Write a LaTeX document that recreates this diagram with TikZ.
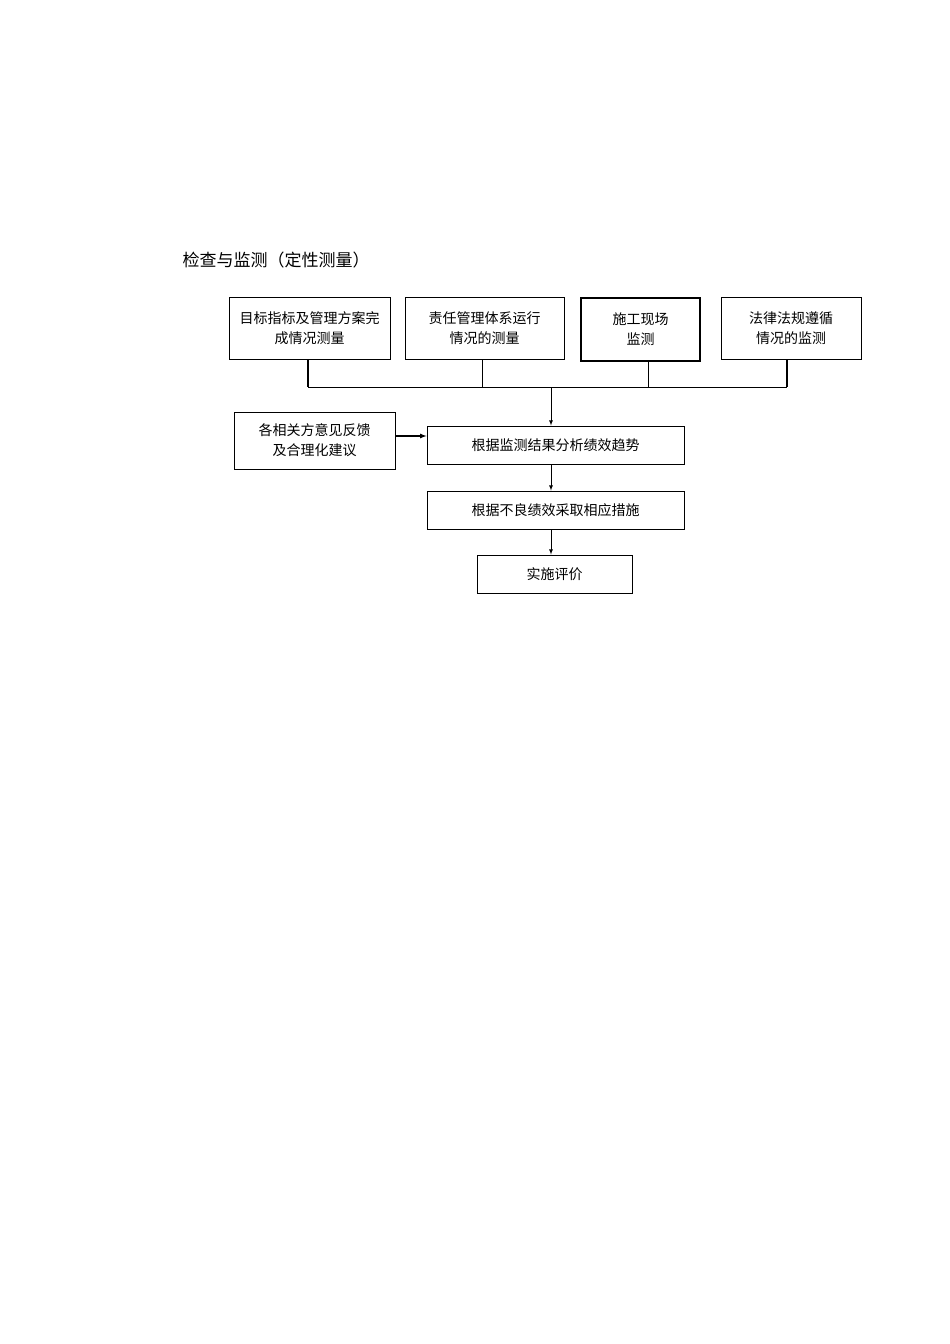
\documentclass[tikz,border=0pt]{standalone}
\usepackage{fontspec}
\newfontfamily\cjk{Noto Sans CJK SC}
\begin{document}
\begin{tikzpicture}[x=1pt,y=-1pt,
  bx/.style={draw,line width=0.9pt,inner sep=0pt,align=center,font=\cjk\fontsize{14}{20}\selectfont},
  ln/.style={line width=0.8pt},
  ar/.style={line width=0.8pt,-latex}]
\useasboundingbox[fill=white] (0,0) rectangle (950,1344);
\node[anchor=west,font=\cjk\fontsize{17}{20}\selectfont] (t) at (179,260) {检查与监测（定性测量）};
\node[bx,minimum width=161,minimum height=62] (b1) at (309.5,328) {目标指标及管理方案完\\成情况测量};
\node[bx,minimum width=159,minimum height=62] (b2) at (484.5,328) {责任管理体系运行\\情况的测量};
\node[bx,line width=1.4pt,minimum width=119,minimum height=63] (b3) at (640.5,329.5) {施工现场\\监测};
\node[bx,minimum width=140,minimum height=62] (b4) at (791,328) {法律法规遵循\\情况的监测};
\node[bx,minimum width=161,minimum height=57] (bl) at (314.5,440.5) {各相关方意见反馈\\及合理化建议};
\node[bx,minimum width=257,minimum height=38] (b5) at (555.5,445) {根据监测结果分析绩效趋势};
\node[bx,minimum width=257,minimum height=38] (b6) at (555.5,510) {根据不良绩效采取相应措施};
\node[bx,minimum width=155,minimum height=38] (b7) at (554.5,574) {实施评价};
\coordinate (j1) at (308,387);
\coordinate (j2) at (482,387);
\coordinate (j3) at (648,387);
\coordinate (j4) at (787,387);
\coordinate (jm) at (551,387);
\draw[ln] (j1) -- (j4);
\draw[ln,line width=1.4pt] (b1.south -| j1) -- (j1);
\draw[ln] (b2.south -| j2) -- (j2);
\draw[ln] (b3.south -| j3) -- (j3);
\draw[ln,line width=1.4pt] (b4.south -| j4) -- (j4);
\draw[ar] (jm) -- (b5.north -| jm);
\coordinate (ya) at (0,436);
\draw[ar,line width=1.2pt] (bl.east |- ya) -- (b5.west |- ya);
\draw[ar] (b5.south -| jm) -- (b6.north -| jm);
\draw[ar] (b6.south -| jm) -- (b7.north -| jm);
\end{tikzpicture}
\end{document}
